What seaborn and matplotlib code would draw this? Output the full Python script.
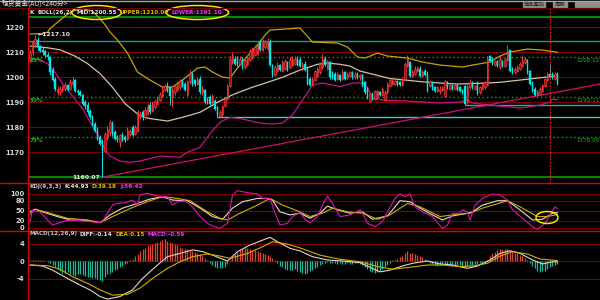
import numpy as np
import matplotlib
matplotlib.use("Agg")
import matplotlib.pyplot as plt
import seaborn as sns
from matplotlib.patches import Ellipse, Rectangle

# ---------------- candle data (240-minute bars) ----------------
opens = [1207, 1210, 1213.5, 1215, 1212.5, 1211, 1210.5, 1209, 1208, 1203,
         1199.5, 1194, 1194, 1195, 1195.5, 1197, 1195.5, 1197.5, 1199, 1194.5,
         1194, 1193, 1190, 1189, 1186.5, 1184.5, 1181.5, 1179, 1176, 1174.5,
         1170.5, 1176, 1178, 1181.5, 1178, 1176, 1174, 1177, 1176, 1175.5,
         1177.5, 1180, 1177.5, 1178.5, 1184.5, 1186, 1184, 1185.5, 1189, 1186.5,
         1188, 1189.5, 1191, 1192.5, 1195, 1197, 1196, 1192, 1194, 1195,
         1196, 1198.5, 1197.5, 1193, 1198, 1201.5, 1199, 1197.5, 1199.5, 1194,
         1195, 1191, 1192, 1190, 1190.5, 1188, 1184.5, 1185.5, 1188.5, 1191.5,
         1196.5, 1206, 1207.5, 1208, 1205.5, 1207.5, 1204, 1205, 1207, 1208,
         1209, 1209.5, 1214, 1211, 1212, 1211.5, 1214, 1205, 1201, 1202.5,
         1205, 1202.5, 1203.5, 1206, 1204, 1205, 1205.5, 1207.5, 1207, 1204,
         1205.5, 1203.5, 1199.5, 1197, 1199, 1200.5, 1202, 1204, 1207.5, 1203.5,
         1206, 1202, 1201.5, 1199.5, 1201, 1199.5, 1202, 1200, 1200.5, 1202,
         1200, 1201.5, 1200, 1201, 1198, 1195.5, 1190.5, 1193.5, 1191.5, 1192,
         1194, 1193, 1191, 1194, 1196.5, 1197.5, 1197.5, 1198.5, 1198, 1197,
         1199.5, 1204.5, 1206, 1200.5, 1201.5, 1202.5, 1203.5, 1200.5, 1202.5, 1201.5,
         1196.5, 1198, 1196, 1194.5, 1194.5, 1195, 1192.5, 1198, 1195.5, 1197,
         1195.5, 1197, 1196, 1195, 1196.5, 1190, 1196, 1198, 1195.5, 1198,
         1194, 1195.5, 1196, 1197, 1208.5, 1207.5, 1205, 1206.5, 1204, 1206.5,
         1204.5, 1207, 1211, 1203.5, 1202, 1202.5, 1203.5, 1204.5, 1206, 1207,
         1202.5, 1198, 1195.5, 1193, 1193.5, 1194.5, 1196.5, 1199, 1201.5, 1201.5,
         1199.5, 1201.5]
closes = [1210, 1214, 1215.5, 1212, 1210.5, 1210, 1209, 1208, 1202, 1199,
          1195.5, 1195.5, 1195.5, 1196.5, 1197, 1195.5, 1198, 1198.5, 1194.5, 1194,
          1193, 1189.5, 1188.5, 1186, 1184, 1181, 1178.5, 1175.5, 1173.5, 1170.5,
          1177.5, 1179.5, 1182, 1177.5, 1175.5, 1175, 1177, 1175.5, 1175, 1179,
          1178.5, 1177, 1180, 1186, 1185.5, 1184, 1187, 1188.5, 1186, 1189.5,
          1190.5, 1191.5, 1193.5, 1195.5, 1196.5, 1194.5, 1192.5, 1195, 1196.5, 1197.5,
          1198.5, 1196.5, 1195, 1198.5, 1201.5, 1197, 1197.5, 1199, 1194, 1195.5,
          1190, 1190.5, 1189.5, 1192.5, 1187.5, 1185, 1186, 1188.5, 1191.5, 1196.5,
          1207.5, 1209, 1205.5, 1205, 1207.5, 1204, 1207, 1208, 1210.5, 1211,
          1212, 1212.5, 1211, 1214.5, 1214, 1214.5, 1205, 1200.5, 1204, 1205,
          1203, 1206, 1206.5, 1203, 1207, 1207.5, 1207.5, 1205, 1204.5, 1205,
          1203, 1197.5, 1197, 1199.5, 1202.5, 1203.5, 1205.5, 1207, 1205, 1206.5,
          1200, 1200, 1199, 1201.5, 1199, 1202, 1199.5, 1201.5, 1202, 1200,
          1201.5, 1200, 1201, 1196.5, 1194, 1192, 1193.5, 1191.5, 1194.5, 1194.5,
          1193, 1195.5, 1194, 1197.5, 1199, 1198.5, 1198.5, 1197, 1197, 1199.5,
          1205.5, 1207.5, 1200.5, 1202, 1203.5, 1204, 1200.5, 1202, 1201, 1194.5,
          1198.5, 1195.5, 1194.5, 1196, 1195.5, 1196, 1198.5, 1196, 1197, 1195.5,
          1197, 1195, 1194.5, 1194, 1189.5, 1196.5, 1198, 1196, 1196.5, 1193.5,
          1196, 1197.5, 1198, 1207.5, 1206.5, 1205.5, 1206.5, 1204.5, 1207.5, 1204.5,
          1207.5, 1210.5, 1202.5, 1202, 1203.5, 1204, 1205.5, 1206.5, 1207.5, 1202,
          1197.5, 1194.5, 1193, 1194.5, 1195.5, 1197, 1199.5, 1201.5, 1200.5, 1200,
          1201.5, 1197.5]
highs = [1211, 1215, 1217.1, 1216, 1213, 1212, 1211, 1210, 1208.5, 1204,
         1200, 1196.5, 1196.5, 1197, 1198, 1197.5, 1199.5, 1200, 1199.5, 1195.5,
         1195, 1193.5, 1191, 1190, 1187.5, 1185, 1182, 1180, 1177, 1175.5,
         1178, 1180.5, 1183, 1182.5, 1179, 1177, 1177.5, 1178, 1177, 1180,
         1179.5, 1181, 1181, 1187, 1186.5, 1187, 1188, 1189.5, 1190, 1190.5,
         1191.5, 1192.5, 1194, 1196.5, 1197.5, 1198, 1196.5, 1196, 1197, 1198.5,
         1199.5, 1199.5, 1198, 1199, 1203, 1202, 1199.5, 1200, 1200.5, 1196.5,
         1195.5, 1192, 1193, 1193.5, 1191.5, 1188.5, 1187, 1189, 1192, 1197.5,
         1208.5, 1210, 1208.5, 1208.5, 1208.5, 1208, 1208, 1209, 1211.5, 1212,
         1213, 1213.5, 1215, 1215.5, 1215, 1215.8, 1215.5, 1205.5, 1205, 1206,
         1205.5, 1207, 1207.5, 1206.5, 1208, 1208.5, 1208.5, 1208.5, 1208, 1206,
         1206.5, 1204, 1200, 1200, 1203, 1204, 1206, 1209.5, 1208.5, 1207,
         1206.5, 1202.5, 1202, 1202, 1201.5, 1203.5, 1202.5, 1202, 1202.5, 1202.5,
         1202.5, 1202, 1201.5, 1201.5, 1198.5, 1196, 1194, 1194, 1195, 1195,
         1194.5, 1196, 1195, 1198, 1199.5, 1199.5, 1199, 1199, 1198.5, 1200,
         1206, 1209, 1206.5, 1203, 1204.5, 1204.5, 1204.5, 1203, 1203.5, 1202.5,
         1199, 1198.5, 1196.5, 1196.5, 1196.5, 1196.5, 1199, 1198.5, 1197.5, 1197.5,
         1197.5, 1197.5, 1196.5, 1195.5, 1197, 1197.5, 1199.5, 1198.5, 1197, 1198.5,
         1196.5, 1198, 1198.5, 1208.5, 1209, 1208, 1207, 1207, 1208.5, 1207,
         1208, 1213, 1211.5, 1204, 1204, 1205, 1206, 1209, 1208, 1207.5,
         1203, 1198.5, 1196, 1195, 1196, 1197.5, 1200, 1202, 1205.5, 1202,
         1202, 1202]
lows = [1206, 1209, 1212, 1211, 1210, 1209, 1208, 1207, 1201, 1198.5,
        1194.5, 1193, 1193, 1194, 1194.5, 1194.5, 1195, 1196, 1194, 1193,
        1192.5, 1189, 1187.5, 1185.5, 1183.5, 1180.5, 1178, 1175, 1173, 1160.07,
        1170, 1175, 1176.5, 1176.5, 1175, 1174, 1172, 1174.5, 1174, 1175,
        1176.5, 1176.5, 1177, 1178, 1183.5, 1183, 1183.5, 1185, 1185.5, 1186,
        1187.5, 1189, 1190.5, 1192, 1194.5, 1194, 1189, 1188, 1193, 1194.5,
        1195.5, 1196, 1194.5, 1192.5, 1197.5, 1196.5, 1196.5, 1197, 1193.5, 1193,
        1189.5, 1189.5, 1189, 1189.5, 1187, 1184.2, 1184.1, 1184.5, 1188, 1191,
        1196, 1205.5, 1205, 1204.5, 1205, 1203.5, 1203.5, 1204.5, 1206.5, 1207.5,
        1208.5, 1209, 1210.5, 1210.5, 1211.5, 1211, 1204.5, 1200, 1200.5, 1202,
        1202.5, 1202, 1203, 1202.5, 1203.5, 1204.5, 1205, 1204.5, 1204, 1203,
        1202.5, 1197, 1196.5, 1196.5, 1198.5, 1200, 1201.5, 1203.5, 1204.5, 1203,
        1199.5, 1199.5, 1198.5, 1199, 1198.5, 1199, 1199, 1199.5, 1200, 1199.5,
        1199.5, 1199.5, 1199, 1196, 1193.5, 1191.5, 1190, 1191, 1191, 1191.5,
        1192.5, 1192.5, 1190.5, 1193.5, 1196, 1197, 1197, 1196.5, 1196.5, 1196.5,
        1199, 1204, 1200, 1200, 1201, 1202, 1200, 1200, 1200.5, 1194,
        1196, 1195, 1194, 1194, 1193.5, 1194.5, 1192, 1195.5, 1195, 1195,
        1195, 1194.5, 1194, 1193.5, 1188.9, 1189.5, 1195.5, 1195.5, 1195, 1193,
        1193.5, 1195, 1195.5, 1196.5, 1206, 1205, 1204.5, 1204, 1203.5, 1204,
        1204, 1206.5, 1202, 1201.5, 1201.5, 1202, 1203, 1204, 1205.5, 1201.5,
        1197, 1194, 1192.5, 1192.5, 1193, 1194, 1196, 1198.5, 1200, 1199.5,
        1199, 1197]

# ---------------- BOLL(26,2) read points ----------------
upper_idx = [0, 5, 7, 8, 11, 14, 17, 21, 25, 28, 30, 32, 35, 39, 43, 48, 53, 57, 61, 67,
             70, 73, 77, 80, 83, 88, 91, 94, 96, 102, 108, 113, 123, 127, 131, 134, 139,
             143, 151, 157, 164, 173, 177, 184, 188, 192, 199, 205, 211]
upper_val = [1217.3, 1217.5, 1218, 1219.5, 1222, 1224.5, 1226.5, 1227.5, 1226.5, 1223.5,
             1221, 1218.1, 1214.9, 1209.7, 1202.1, 1198.9, 1196.1, 1196.1, 1198.9, 1203.7,
             1204.1, 1202.1, 1200.1, 1199.7, 1203.7, 1209.7, 1212.9, 1216.9, 1218.9, 1219.3,
             1219.7, 1214.1, 1213.7, 1212.1, 1208.1, 1207.7, 1209.7, 1208.5, 1207.7, 1206.1,
             1204.9, 1204.1, 1204.9, 1206.1, 1208.5, 1210.1, 1211.3, 1210.9, 1210.0]
mid_idx = [0, 7, 12, 18, 23, 28, 33, 38, 44, 48, 55, 61, 68, 75, 81, 88, 95, 101, 108, 115,
           119, 124, 128, 132, 144, 157, 164, 171, 180, 188, 196, 203, 211]
mid_val = [1212.5, 1211.8, 1211, 1208.5, 1205.5, 1201.5, 1196, 1189.5, 1184.5, 1183.5,
           1182.5, 1184, 1186, 1190, 1193, 1195.7, 1198, 1200, 1202.9, 1205.2,
           1205.7, 1205.2, 1204.5, 1202.5, 1199.5, 1198.2, 1197.7, 1197.3, 1197.6, 1198,
           1198.9, 1199.7, 1200.55]
lower_idx = [0, 4, 7, 10, 13, 17, 21, 25, 28, 30, 32, 36, 40, 44, 48, 52, 60, 63, 68, 72,
             76, 80, 85, 92, 97, 101, 105, 109, 113, 117, 124, 129, 133, 135, 137, 141, 151,
             159, 164, 172, 175, 177, 184, 192, 196, 199, 204, 208, 209, 211]
lower_val = [1207.5, 1207, 1205.5, 1202, 1197.5, 1192.5, 1187.5, 1180.5, 1175.5, 1171,
             1168.5, 1166.5, 1166, 1166.5, 1167.5, 1168.5, 1168, 1170, 1172, 1177.5,
             1182, 1184, 1183.3, 1181.7, 1181.3, 1181.7, 1185, 1190.9, 1196.9, 1197.7,
             1196.3, 1197.7, 1197.7, 1196, 1191.7, 1190.9, 1190.5, 1190, 1189.7, 1190.1,
             1190.9, 1189.7, 1188.9, 1188.1, 1187.7, 1188.1, 1188.9, 1190.1, 1191.2, 1191.1]

# ---------------- drawn levels ----------------
fib_prices = [1224.15, 1208.12, 1192.11, 1176.09, 1160.07]
fib_labels = ["0%", "25%", "50%", "75%", "100%"]
support_prices = [1214.6, 1188.9, 1184.1]
support_start = [-0.8, 174, 75]
trend_idx = [29, 228]
trend_val = [1160.07, 1197.3]
price_ticks = [1170, 1180, 1190, 1200, 1210, 1220]
cursor_idx = 208

# ---------------- KDJ(9,3,3) read points ----------------
k_idx = [0, 2, 5, 11, 16, 23, 28, 32, 37, 43, 48, 53, 57, 63, 68, 73, 77, 81, 85, 91,
         95, 97, 100, 104, 108, 112, 116, 119, 123, 128, 133, 137, 143, 148, 152, 156,
         161, 165, 169, 175, 177, 181, 187, 191, 196, 201, 205, 209, 211]
k_val = [47, 55, 47, 33, 23, 21, 15, 38, 58, 72, 85, 92, 82, 80, 58, 33, 25, 58, 77, 87,
         87, 82, 47, 38, 43, 28, 43, 64, 53, 43, 47, 25, 35, 80, 77, 58,
         38, 23, 35, 43, 47, 67, 80, 80, 53, 23, 25, 43, 44.93]
d_idx = [0, 2, 8, 15, 23, 28, 33, 41, 48, 53, 59, 64, 71, 76, 79, 84, 91, 96, 101, 108,
         112, 117, 121, 127, 133, 139, 144, 151, 156, 164, 169, 176, 181, 191, 196, 203,
         207, 211]
d_val = [40, 55, 43, 28, 23, 15, 33, 60, 80, 92, 87, 80, 47, 28, 23, 43, 67, 87, 67, 47,
         33, 43, 58, 47, 43, 25, 38, 72, 62, 33, 38, 43, 58, 80, 62, 33,
         33, 39.18]
j_idx = [0, 1, 4, 7, 9, 13, 16, 20, 24, 27, 29, 31, 33, 35, 38, 41, 43, 44, 47, 51,
         55, 57, 59, 62, 65, 68, 71, 73, 76, 79, 81, 83, 87, 91, 93, 96, 98, 100, 103,
         105, 108, 110, 112, 115, 117, 119, 121, 124, 128, 132, 133, 135, 138, 141, 143,
         146, 148, 150, 152, 154, 157, 161, 165, 167, 169, 172, 173, 175, 176, 178, 181,
         185, 188, 191, 193, 197, 201, 203, 206, 208, 210, 211]
j_val = [18, 52, 47, 23, 8, 18, 23, 21, 18, 15, 18, 43, 67, 72, 74, 82, 67, 97, 102, 94,
         92, 67, 77, 80, 62, 33, 13, 5, -2, 13, 97, 110, 104, 100, 87, 87, 43, 8, 13,
         33, 45, 25, 15, 33, 67, 94, 72, 33, 38, 53, 43, 13, 3, 18, 47,
         87, 100, 92, 100, 62, 47, 33, -2, 8, 43, 43, 53, 47, 23, 67, 87,
         100, 97, 82, 53, 28, 3, -5, 13, 38, 62, 56.42]
kdj_ticks = [0, 20, 50, 80, 100]

# ---------------- MACD(12,26,9) ----------------
diff_idx = [0, 5, 9, 15, 20, 24, 28, 31, 36, 41, 45, 51, 55, 60, 65, 69, 73, 79, 83, 88,
            93, 96, 99, 104, 108, 113, 119, 125, 132, 136, 140, 144, 149, 153, 159, 164,
            169, 175, 179, 184, 188, 192, 196, 201, 205, 209, 211]
diff_val = [-0.84, -1.07, -2.0, -3.9, -5.4, -6.5, -8.0, -8.6, -8.0, -6.5, -3.9, -0.84, 1.05,
            1.8, 2.6, 2.2, 1.4, 0.07, 2.2, 3.7, 4.8, 5.45, 4.45, 2.95, 2.35, 1.05, 0.3,
            0.07, -0.3, -1.36, -2.4, -2.0, -1.07, -0.45, 0.07, -0.6, -0.84, -1.6, -1.07,
            0.3, 1.8, 2.4, 1.8, 0.3, -0.6, -0.1, -0.14]
dea_idx = [0, 7, 12, 17, 23, 28, 33, 39, 44, 49, 55, 60, 65, 71, 76, 80, 87, 93, 97, 103,
           108, 116, 124, 132, 139, 145, 152, 159, 165, 172, 177, 183, 188, 193, 199, 204,
           211]
dea_val = [-0.84, -1.0, -1.8, -3.5, -5.0, -6.5, -7.7, -7.5, -6.1, -3.9, -1.6, -0.1, 1.05,
           1.66, 1.2, 0.68, 1.8, 3.3, 4.45, 3.9, 3.05, 1.4, 0.45, -0.1, -1.2, -1.8, -1.36,
           -0.84, -0.84, -1.2, -1.07, -0.45, 1.2, 2.2, 1.66, 0.52, 0.15]
macd_hist = [0.3, 0.35, 0.4, 0.3, 0.3, 0.2, 0.1, -0.2, -0.5, -0.9,
             -1.3, -1.8, -2.2, -2.7, -2.6, -2.4, -2.8, -3.2, -3.4, -3.0,
             -2.9, -3.2, -3.4, -3.5, -3.6, -3.8, -3.9, -4.0, -4.2, -4.4,
             -3.6, -3.0, -2.6, -2.4, -2.0, -1.7, -1.4, -1.0, -0.6, -0.3,
             0.2, 0.6, 1.1, 1.7, 2.3, 2.7, 3.1, 3.4, 3.7, 4.0,
             4.2, 4.4, 4.6, 4.8, 5.0, 4.7, 4.3, 4.1, 3.9, 3.6,
             3.3, 3.0, 2.8, 2.7, 2.6, 2.4, 2.2, 2.0, 1.6, 1.2,
             0.7, 0.2, -0.4, -0.9, -1.3, -1.5, -1.6, -1.5, -1.2, -0.7,
             0.3, 1.0, 1.6, 2.2, 2.6, 2.9, 3.1, 3.0, 2.8, 2.6,
             2.5, 2.4, 2.2, 2.0, 1.7, 1.5, 1.2, 0.7, 0.2, -0.4,
             -1.0, -1.4, -1.7, -1.9, -2.0, -2.0, -1.8, -2.1, -2.4, -2.7,
             -2.8, -2.6, -2.2, -1.9, -1.5, -1.2, -0.9, -0.6, -0.3, -0.2,
             -0.3, -0.5, -0.4, -0.6, -0.5, -0.7, -0.6, -0.5, -0.7, -0.6,
             -0.5, -0.4, -0.6, -0.9, -1.3, -1.7, -2.1, -2.4, -2.6, -2.5,
             -2.2, -1.8, -1.3, -0.8, -0.3, 0.2, 0.4, 0.6, 0.9, 1.3,
             1.8, 2.3, 2.0, 1.8, 1.6, 1.4, 1.2, 1.0, 0.6, 0.2,
             -0.4, -0.7, -0.9, -1.1, -0.9, -0.8, -0.7, -0.8, -0.9, -1.0,
             -0.9, -0.8, -0.9, -1.0, -1.3, -1.1, -0.9, -0.8, -0.7, -0.6,
             -0.5, -0.4, -0.2, 0.4, 1.2, 1.8, 2.2, 2.6, 2.8, 2.9,
             2.8, 2.7, 2.6, 2.3, 2.0, 1.8, 1.5, 1.2, 0.8, 0.4,
             -0.4, -1.0, -1.6, -2.1, -2.4, -2.3, -2.1, -1.7, -1.3, -1.0,
             -0.8, -0.59]
macd_ticks = [-4, 0, 4]

# ---------------- header texts ----------------
title_text = "现货黄金(AU)<240分>"
main_header = [("K", '#e8e8e8'), ("BOLL(26,2)", '#e0e0e0'), ("MID:1200.55", '#e8e8e8'),
               ("UPPER:1210.00", '#d8c000'), ("LOWER:1191.10", '#ff30ff')]
kdj_header = [("KDJ(9,3,3)", '#c8c8c8'), ("K:44.93", '#e8e8e8'), ("D:39.18", '#d8c000'),
              ("J:56.42", '#ff30ff')]
macd_header = [("MACD(12,26,9)", '#c8c8c8'), ("DIFF:-0.14", '#e8e8e8'),
               ("DEA:0.15", '#d8c000'), ("MACD:-0.59", '#ff30ff')]

# ---------------- style ----------------
sns.set_theme(style="dark", rc={"axes.facecolor": "black", "figure.facecolor": "black",
                                "savefig.facecolor": "black"})
plt.rcParams['font.family'] = ['DejaVu Sans']
CJK = ['Noto Sans CJK SC', 'DejaVu Sans']

RED = '#ff3a3a'
REDFILL = '#8a1515'
CYAN = '#00e8e8'
GRID = '#7c0000'
SEP = '#d80000'
GOLD = '#c8a200'
TAN = '#d6c2a4'
MAG = '#c8108c'
GREEN = '#00b400'
LBL = '#d8d8d8'
SMALL = 4.1

fig = plt.figure(figsize=(6, 3), dpi=100)
W, H = 600.0, 300.0


def panel(top, bottom):
    a = fig.add_axes([28 / W, 1 - bottom / H, (600 - 28) / W, (bottom - top) / H])
    a.set_facecolor('black')
    a.set_xlim(-0.8, 228)
    for s in a.spines.values():
        s.set_visible(False)
    a.set_xticks([])
    a.grid(False)
    a.tick_params(axis='y', length=0, pad=2.5, labelsize=4.9, labelcolor=LBL)
    return a


ax = panel(8, 183)
axk = panel(183, 231)
axm = panel(231, 300)
ax.set_ylim(1157.72, 1227.72)
axk.set_ylim(-9.8, 132.6)
axm.set_ylim(-8.8, 6.89)

for a, ticks in ((ax, price_ticks), (axk, kdj_ticks), (axm, macd_ticks)):
    a.set_yticks(ticks)
    a.set_yticklabels([str(t) for t in ticks], fontweight='bold')
    for t in ticks:
        a.axhline(t, color=GRID, lw=0.8, zorder=0)

# ---------- main panel ----------
x = np.arange(len(closes))
o = np.array(opens); c = np.array(closes); h = np.array(highs); l = np.array(lows)
up = c >= o

for p, lab in zip(fib_prices, fib_labels):
    if lab in ("0%", "100%"):
        ax.axhline(p, color=GREEN, lw=1.1, zorder=1)
    else:
        ax.axhline(p, color=GREEN, lw=1.0, ls=(0, (1, 2)), zorder=1)
        ax.text(0.0, p - 0.5, lab, color='#10c010', fontsize=SMALL, va='top', ha='left',
                fontweight='bold', zorder=6)
        ax.text(227.8, p - 0.5, f"{p:.2f}", color='#10c010', fontsize=SMALL, va='top',
                ha='right', zorder=6)

for p, s, col in zip(support_prices, support_start, ['#169c8c', '#22aeb0', '#46c8cc']):
    ax.hlines(p, s, 228, color=col, lw=1.0, zorder=1)

sns.lineplot(x=trend_idx, y=trend_val, ax=ax, color='#d0106c', lw=0.9, estimator=None,
             sort=False, legend=False, zorder=2)
sns.lineplot(x=upper_idx, y=upper_val, ax=ax, color=GOLD, lw=0.9, estimator=None,
             sort=False, legend=False, zorder=3)
sns.lineplot(x=mid_idx, y=mid_val, ax=ax, color=TAN, lw=0.9, estimator=None,
             sort=False, legend=False, zorder=3)
sns.lineplot(x=lower_idx, y=lower_val, ax=ax, color=MAG, lw=0.9, estimator=None,
             sort=False, legend=False, zorder=3)

ax.vlines(x, l, h, colors=np.where(up, RED, CYAN), lw=0.7, zorder=4)
ax.bar(x[up], (c - o)[up], bottom=o[up], width=0.72, color=REDFILL, edgecolor=RED,
       lw=0.45, zorder=5)
ax.bar(x[~up], (c - o)[~up], bottom=o[~up], width=0.72, color=CYAN, edgecolor=CYAN,
       lw=0.3, zorder=5)

ax.axvline(cursor_idx, color='#ff2424', lw=0.8, ls=(0, (1.5, 1.5)), zorder=6)

hi_i = int(np.argmax(h))
lo_i = int(np.argmin(l))
ax.annotate(f"\u2190{h[hi_i]:.2f}", xy=(hi_i, h[hi_i]), xytext=(2, 0),
            textcoords='offset points', color='#e8e8e8', fontsize=SMALL + 0.3, va='center',
            ha='left', fontweight='bold', zorder=7)
ax.annotate(f"{l[lo_i]:.2f}", xy=(lo_i, l[lo_i]), xytext=(-2, 0),
            textcoords='offset points', color='#e8e8e8', fontsize=SMALL + 0.3, va='center',
            ha='right', fontweight='bold', zorder=7)

# ---------- KDJ ----------
sns.lineplot(x=k_idx, y=k_val, ax=axk, color='#e6dccf', lw=0.8, estimator=None,
             sort=False, legend=False)
sns.lineplot(x=d_idx, y=d_val, ax=axk, color='#d4ac00', lw=0.8, estimator=None,
             sort=False, legend=False)
sns.lineplot(x=j_idx, y=j_val, ax=axk, color='#e010b0', lw=0.8, estimator=None,
             sort=False, legend=False)

# ---------- MACD ----------
hist = np.array(macd_hist)
axm.vlines(np.arange(len(hist)), 0, hist, colors=np.where(hist >= 0, '#e4412e', '#1fb89e'),
           lw=0.9, zorder=2)
sns.lineplot(x=diff_idx, y=diff_val, ax=axm, color='#e2d6c6', lw=0.8, estimator=None,
             sort=False, legend=False, zorder=3)
sns.lineplot(x=dea_idx, y=dea_val, ax=axm, color='#d4ac00', lw=0.8, estimator=None,
             sort=False, legend=False, zorder=3)

for a in (ax, axk, axm):
    a.set_xlabel('')
    a.set_ylabel('')

# ---------- overlay (frame, headers, marks) ----------
ov = fig.add_axes([0, 0, 1, 1], zorder=20)
ov.set_xlim(0, W)
ov.set_ylim(H, 0)
ov.axis('off')
ov.patch.set_alpha(0)

ov.plot([0, 600], [0.6, 0.6], color='#b0a890', lw=1.0)
ov.plot([0, 600], [7.6, 7.6], color='#6a0000', lw=0.8)
ov.plot([0, 600], [183, 183], color=SEP, lw=1.0)
ov.plot([0, 600], [231, 231], color=SEP, lw=1.0)
ov.plot([28, 28], [8, 300], color=SEP, lw=1.0)

ov.text(2, 4.0, title_text, color='#e8e8e8', fontsize=4.9, family=CJK,
        va='center', ha='left')
for txt, xx, ww in (("商品叠加", 523, 22), ("周期", 553, 14)):
    ov.add_patch(Rectangle((xx, 1.5), ww, 5.5, color='#8c8c8c', zorder=1))
    ov.text(xx + ww / 2, 4.3, txt, color='#202020', fontsize=3.8, family=CJK,
            va='center', ha='center', zorder=2)
ov.add_patch(Rectangle((575, 1.5), 24, 5.5, color='#8c8c8c'))


def header(x0, y, parts, gaps):
    txt, col = parts[0]
    t = ov.text(x0, y, txt, color=col, fontsize=SMALL, va='center', ha='left',
                fontweight='bold')
    out = [t]
    for (txt, col), g in zip(parts[1:], gaps):
        t = ov.annotate(txt, xy=(1, 0.5), xycoords=t, xytext=(g, 0),
                        textcoords='offset pixels', color=col, fontsize=SMALL,
                        va='center', ha='left', fontweight='bold')
        out.append(t)
    return out


mh = header(29, 12.5, main_header, [4, 4, 3, 3])
kh = header(29, 186.5, kdj_header, [3, 3, 3])
header(29, 234, macd_header, [3, 3, 3])

fig.canvas.draw()
rend = fig.canvas.get_renderer()
inv = ov.transData.inverted()


def ring(t, padx, pady):
    bb = t.get_window_extent(rend)
    (x0, y0), (x1, y1) = inv.transform([[bb.x0, bb.y0], [bb.x1, bb.y1]])
    ov.add_patch(Ellipse(((x0 + x1) / 2, (y0 + y1) / 2), abs(x1 - x0) + padx,
                         abs(y1 - y0) + pady, fill=False, ec='#f4e400', lw=1.1))


ring(mh[2], 9, 9)
ring(mh[4], 12, 9)
ov.add_patch(Ellipse((547, 217.5), 22, 12, fill=False, ec='#f4e400', lw=1.1))

fig.savefig("out.png", dpi=100, facecolor='black')
